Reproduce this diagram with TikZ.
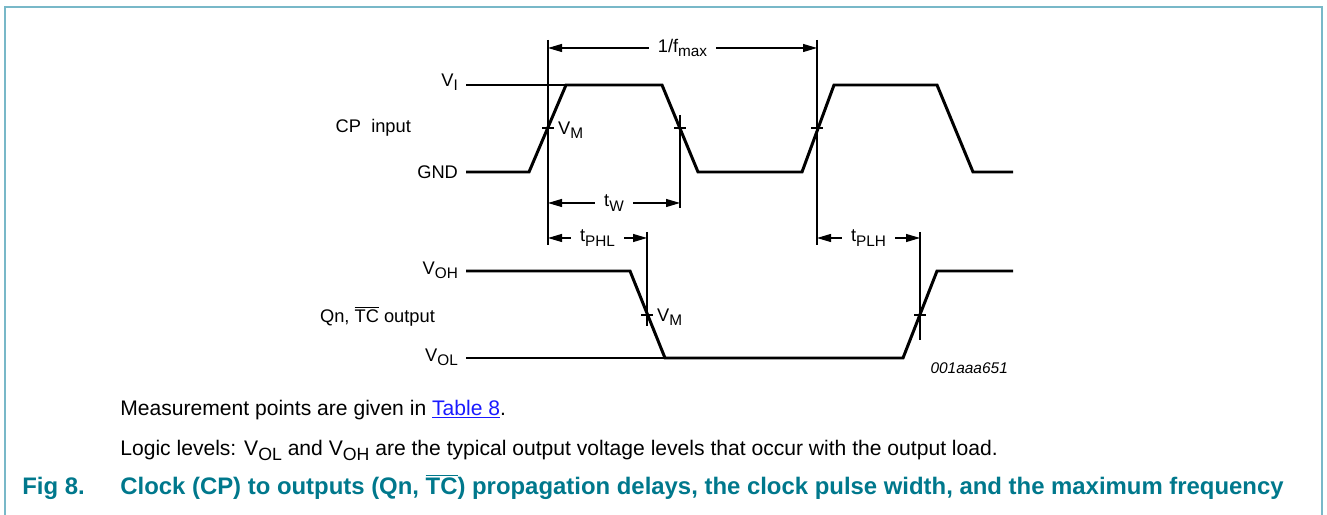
\documentclass[tikz,border=0pt]{standalone}
\usepackage{fontspec}
\setmainfont{Liberation Sans}
\usetikzlibrary{arrows.meta,positioning}
\definecolor{frm}{HTML}{78B8C8}
\definecolor{capt}{HTML}{00788C}
\definecolor{lnk}{HTML}{1A1AFF}
\makeatletter
\newcommand{\lo}[1]{\raisebox{-0.45ex}{\fontsize{\strip@pt\dimexpr0.84\dimexpr\f@size pt\relax\relax}{1}\selectfont #1}}
\makeatother

\begin{document}
\begin{tikzpicture}[x=0.2mm,y=-0.2mm,
  wave/.style={line width=1.7pt,line join=miter},
  thn/.style={line width=0.6pt},
  dim/.style={thn,{Triangle[length=2.8mm,width=1.6mm]}-{Triangle[length=2.8mm,width=1.6mm]}},
  lbl/.style={font=\fontsize{10.4}{12}\selectfont,inner sep=1pt},
  gap/.style={lbl,fill=white,inner xsep=5pt},
  txt/.style={font=\fontsize{12}{14}\selectfont,anchor=base west,inner sep=0pt},
  figcap/.style={font=\fontsize{13.6}{16}\selectfont\bfseries,text=capt,anchor=base west,inner sep=0pt}]
\useasboundingbox (0,0) rectangle (1327,515);
% frame
\draw[frm,line width=1.2pt] (5,520) -- (5,7) -- (1322,7) -- (1322,520);

% clock input
\coordinate (c0) at (466,172);
\draw[wave] (c0) -- (529,172) -- (566,85) -- (662,85) -- (698,172) -- (802,172)
  -- (834,85) -- (937,85) -- (973,172) -- (1013,172);
\draw[thn] (466,85) -- (566,85);
\node[lbl,anchor=east] (vi) at (460,82) {V\lo{I}};
\node[lbl,anchor=east] (gnd) at (460,172) {GND};
\node[lbl,anchor=east] (cp) at (413,128) {CP\ \ input};

% output
\draw[wave] (466,271) -- (630,271) -- (665,358) -- (903,358) -- (937,271) -- (1013,271);
\draw[thn] (466,358) -- (665,358);
\node[lbl,anchor=east] (voh) at (460,270) {V\lo{OH}};
\node[lbl,anchor=east] (vol) at (460,357) {V\lo{OL}};
\node[lbl,anchor=east] (qn) at (437,316) {Qn, $\overline{\mbox{TC}}$ output};

% reference lines
\coordinate (r1) at (548,40);   \coordinate (r1b) at (548,245);
\coordinate (r2) at (680,115);  \coordinate (r2b) at (680,208);
\coordinate (r3) at (817,40);   \coordinate (r3b) at (817,245);
\coordinate (r4) at (647,232);  \coordinate (r4b) at (647,326);
\coordinate (r5) at (920,232);  \coordinate (r5b) at (920,340);
\foreach \r in {1,...,5} \draw[thn] (r\r) -- (r\r b);

% VM ticks
\foreach \p in {(548,128),(680,128),(817,128),(647,315),(920,315)}
  \draw[thn] \p ++(-6,0) -- ++(12,0);
\node[lbl,anchor=west] (vm1) at (556,130) {V\lo{M}};
\node[lbl,anchor=west] (vm2) at (655,317) {V\lo{M}};

% timing
\draw[dim] (r1 |- 0,48) -- (r3 |- 0,48) node[midway,gap] (fmax) {1/f\lo{max}};
\draw[dim] (r1 |- 0,203) -- (r2 |- 0,203) node[midway,gap] (tw) {t\lo{W}};
\draw[dim] (r1 |- 0,238) -- (r4 |- 0,238) node[midway,gap] (tphl) {t\lo{PHL}};
\draw[dim] (r3 |- 0,238) -- (r5 |- 0,238) node[midway,gap] (tplh) {t\lo{PLH}};

\node[lbl,anchor=east,font=\fontsize{8.8}{10}\selectfont\itshape] (id) at (1010,368) {001aaa651};

% notes and caption
\node[txt] (n1) at (120,415) {Measurement points are given in \textcolor{lnk}{\underline{Table 8}}.};
\node[txt] (n2) at (120,455) {Logic levels: V\lo{OL} and V\lo{OH} are the typical output voltage levels that occur with the output load.};
\node[figcap] (fig) at (22,494) {Fig 8.};
\node[figcap] (title) at (120,494) {Clock (CP) to outputs (Qn, $\overline{\mbox{TC}}$) propagation delays, the clock pulse width, and the maximum frequency};
\end{tikzpicture}
\end{document}
